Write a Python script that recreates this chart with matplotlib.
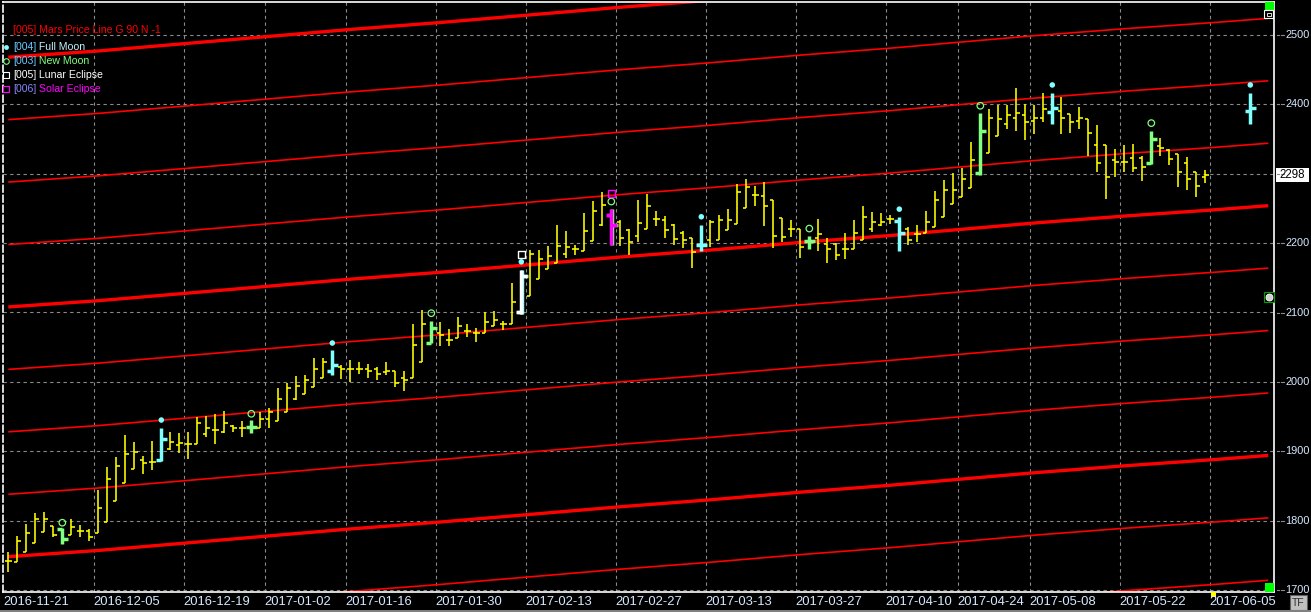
import matplotlib
matplotlib.use("Agg")
import matplotlib.pyplot as plt
from matplotlib.collections import LineCollection
from matplotlib.patches import Rectangle

# ---------------- data ----------------
date_labels = ["2016-11-21", "2016-12-05", "2016-12-19", "2017-01-02", "2017-01-16",
               "2017-01-30", "2017-02-13", "2017-02-27", "2017-03-13", "2017-03-27",
               "2017-04-10", "2017-04-24", "2017-05-08", "2017-05-22", "2017-06-05"]
date_label_bar = [0, 10, 20, 29, 38, 48, 58, 68, 78, 88, 98, 106, 114, 124, 134]

opens = [1742, 1741, 1755, 1768, 1784, 1792, 1788, 1779, 1785, 1785,
         1782, 1798, 1829, 1854, 1875, 1887, 1885, 1887, 1903, 1909,
         1911, 1911, 1925, 1930, 1928, 1936, 1933, 1935, 1933, 1946,
         1943, 1957, 1975, 1983, 1992, 2005, 2015, 2022, 2019, 2019,
         2019, 2019, 2014, 2015, 2006, 2005, 2028, 2056, 2070, 2060,
         2063, 2074, 2071, 2071, 2080, 2083, 2083, 2100, 2124, 2148,
         2162, 2171, 2184, 2191, 2189, 2203, 2226, 2240, 2231, 2219,
         2210, 2220, 2235, 2234, 2226, 2214, 2208, 2198, 2205, 2204,
         2219, 2228, 2250, 2269, 2268, 2262, 2236, 2221, 2221, 2203,
         2207, 2199, 2199, 2191, 2192, 2204, 2221, 2226, 2235, 2232,
         2221, 2213, 2214, 2223, 2238, 2256, 2266, 2279, 2301, 2330,
         2354, 2372, 2380, 2385, 2376, 2380, 2389, 2391, 2386, 2376,
         2379, 2341, 2341, 2320, 2317, 2322, 2322, 2315, 2340, 2334,
         2328, 2316, 2303, 2295]
highs = [1755, 1778, 1795, 1811, 1812, 1792, 1789, 1803, 1793, 1788,
         1844, 1877, 1891, 1923, 1914, 1893, 1915, 1933, 1928, 1926,
         1928, 1949, 1951, 1953, 1958, 1938, 1943, 1945, 1956, 1963,
         1991, 1998, 2008, 2010, 2034, 2034, 2046, 2024, 2031, 2028,
         2026, 2021, 2029, 2016, 2015, 2083, 2104, 2088, 2086, 2076,
         2093, 2083, 2078, 2101, 2102, 2088, 2142, 2161, 2190, 2190,
         2196, 2226, 2217, 2198, 2244, 2261, 2273, 2249, 2233, 2220,
         2262, 2271, 2246, 2239, 2228, 2217, 2208, 2226, 2233, 2241,
         2249, 2285, 2293, 2282, 2288, 2262, 2236, 2234, 2221, 2210,
         2235, 2207, 2200, 2214, 2234, 2253, 2245, 2244, 2241, 2238,
         2223, 2226, 2246, 2275, 2291, 2301, 2309, 2346, 2387, 2394,
         2399, 2399, 2423, 2401, 2399, 2417, 2417, 2410, 2386, 2396,
         2379, 2370, 2341, 2335, 2341, 2343, 2325, 2362, 2352, 2335,
         2328, 2324, 2303, 2306]
lows = [1726, 1741, 1755, 1768, 1784, 1777, 1766, 1779, 1776, 1771,
        1782, 1798, 1829, 1854, 1875, 1867, 1873, 1886, 1902, 1898,
        1889, 1911, 1920, 1911, 1926, 1928, 1921, 1927, 1933, 1933,
        1943, 1957, 1974, 1983, 1992, 2005, 2010, 2004, 2000, 2011,
        2006, 2003, 2010, 1992, 1987, 2005, 2028, 2056, 2052, 2052,
        2063, 2065, 2058, 2071, 2080, 2075, 2083, 2098, 2124, 2148,
        2162, 2171, 2178, 2183, 2189, 2203, 2225, 2197, 2196, 2183,
        2201, 2220, 2224, 2207, 2197, 2193, 2164, 2189, 2194, 2204,
        2219, 2228, 2250, 2253, 2225, 2193, 2201, 2209, 2179, 2192,
        2188, 2171, 2176, 2177, 2192, 2204, 2216, 2224, 2228, 2189,
        2197, 2201, 2214, 2223, 2238, 2256, 2266, 2279, 2298, 2330,
        2354, 2365, 2362, 2348, 2357, 2374, 2372, 2358, 2359, 2365,
        2326, 2302, 2263, 2295, 2302, 2302, 2289, 2314, 2325, 2312,
        2281, 2276, 2266, 2287]
closes = [1742, 1771, 1782, 1803, 1803, 1779, 1774, 1791, 1785, 1777,
          1818, 1860, 1879, 1896, 1899, 1883, 1885, 1917, 1914, 1912,
          1911, 1940, 1934, 1931, 1940, 1933, 1934, 1935, 1947, 1956,
          1975, 1991, 1994, 2002, 2018, 2029, 2024, 2019, 2019, 2019,
          2016, 2011, 2015, 1999, 2003, 2053, 2084, 2077, 2067, 2060,
          2080, 2074, 2071, 2086, 2089, 2083, 2115, 2153, 2185, 2177,
          2181, 2196, 2195, 2191, 2218, 2247, 2255, 2226, 2207, 2201,
          2229, 2253, 2235, 2219, 2206, 2204, 2187, 2198, 2230, 2234,
          2234, 2273, 2281, 2269, 2254, 2210, 2209, 2221, 2194, 2203,
          2213, 2192, 2183, 2191, 2215, 2237, 2231, 2231, 2235, 2214,
          2204, 2213, 2231, 2262, 2277, 2277, 2293, 2320, 2362, 2380,
          2379, 2385, 2387, 2375, 2381, 2393, 2395, 2380, 2374, 2381,
          2359, 2316, 2295, 2317, 2317, 2308, 2310, 2350, 2337, 2321,
          2302, 2293, 2282, 2298]

# projected bar on the next full moon
future_bar = 138
future_ohlc = [2390, 2417, 2372, 2395]

full_moon_bars = [17, 36, 57, 77, 99, 116, 138]
full_moon_marks = [1945, 2056, 2173, 2238, 2249, 2428, 2428]
new_moon_bars = [6, 27, 47, 67, 89, 108, 127]
new_moon_marks = [1797, 1954, 2099, 2260, 2221, 2398, 2373]
lunar_eclipse_bars = [57]
lunar_eclipse_marks = [2184]
solar_eclipse_bars = [67]
solar_eclipse_marks = [2272]

# Mars price line (reference line values), repeated every 90
mars_bars = [0, 10, 20, 29, 38, 48, 58, 68, 78, 88, 98, 106, 114, 124, 134, 140]
mars_vals = [2108, 2117, 2128, 2138, 2148, 2158, 2169, 2180, 2190, 2201, 2211, 2220,
             2229, 2239, 2248, 2254]
mars_offsets = [-540, -450, -360, -270, -180, -90, 0, 90, 180, 270, 360, 450]

price_levels = [1700, 1800, 1900, 2000, 2100, 2200, 2300, 2400, 2500]
last_price = 2298

# ---------------- figure ----------------
W, H = 1311, 612
fig = plt.figure(figsize=(W / 100, H / 100), dpi=100, facecolor="black")
L, R, T, B = 3, 1274, 2, 592
ax = fig.add_axes([L / W, (H - B) / H, (R - L) / W, (B - T) / H])
ax.set_facecolor("black")
px_per_bar = 9.0
x0 = 8.3
ax.set_xlim((L - x0) / px_per_bar, (R - x0) / px_per_bar)
ppu = 0.69375
ax.set_ylim(1700 - (B - 590) / ppu, 1700 + (590 - T) / ppu)
ax.set_xticks([])
ax.set_yticks([])
for s in ax.spines.values():
    s.set_color("white")
    s.set_linewidth(1.2)
ax.spines["left"].set_linestyle((0, (4, 2)))

grid_kw = dict(color="#8a8a8a", lw=0.8, ls=(0, (3, 3)), zorder=1)
for gb in date_label_bar[1:]:
    ax.axvline(gb - 0.5, **grid_kw)
for lv in price_levels:
    ax.axhline(lv, **grid_kw)

# Mars price lines
for off in mars_offsets:
    thick = off % 360 == 0
    ax.plot(mars_bars, [v + off for v in mars_vals], color="#ff0000",
            lw=2.4 if thick else 1.2, zorder=2, solid_capstyle="butt")

# OHLC bars
def draw_bar(i, o, h, l, c, color, lw, tick, z=4):
    segs = [[(i, l), (i, h)], [(i - tick, o), (i, o)], [(i, c), (i + tick, c)]]
    ax.add_collection(LineCollection(segs, colors=color, linewidths=lw, zorder=z,
                                     capstyle="butt"))

special = {}
for b in full_moon_bars:
    special[b] = "#80ffff"
for b in new_moon_bars:
    special[b] = "#80ff80"

for i in range(len(opens)):
    if i in special:
        continue
    draw_bar(i, opens[i], highs[i], lows[i], closes[i], "#ffff00", 1.15, 0.42)

for i in range(len(opens)):
    if i not in special:
        continue
    col = special[i]
    if i in lunar_eclipse_bars:
        draw_bar(i + 0.12, opens[i], highs[i], lows[i], closes[i], "#80ffff", 2.5, 0.6, 5)
        col = "#ffffff"
    if i in solar_eclipse_bars:
        draw_bar(i + 0.12, opens[i], highs[i], lows[i], closes[i], "#80ff80", 2.5, 0.6, 5)
        col = "#ff00ff"
    draw_bar(i, opens[i], highs[i], lows[i], closes[i], col, 2.5, 0.6, 6)

o, h, l, c = future_ohlc
draw_bar(future_bar, o, h, l, c, "#80ffff", 2.5, 0.6, 6)

# markers
ax.scatter(full_moon_bars, full_moon_marks, s=16, marker="o", color="#80ffff",
           edgecolors="none", zorder=7)
ax.scatter(new_moon_bars, new_moon_marks, s=22, marker="o", facecolors="none",
           edgecolors="#80ff80", linewidths=0.9, zorder=7)
ax.scatter(lunar_eclipse_bars, lunar_eclipse_marks, s=26, marker="s", facecolors="none",
           edgecolors="#ffffff", linewidths=1.0, zorder=7)
ax.scatter(solar_eclipse_bars, solar_eclipse_marks, s=26, marker="s", facecolors="none",
           edgecolors="#ff00ff", linewidths=1.0, zorder=7)

# ---------------- text ----------------
FONT = "Liberation Sans"
lab_col = "#d6e9ff"
fs = 7.6
fs_axis = 9.4
fs_price = 7.9

def fx(px):
    return px / W

def fy(py):
    return 1 - py / H

# date labels (left aligned at grid lines)
for lbl, b in zip(date_labels, date_label_bar):
    xp = x0 + px_per_bar * (b - 0.5)
    fig.text(fx(max(xp, 3)), fy(602), lbl, color=lab_col, fontsize=fs_axis, family=FONT,
             ha="left", va="center")

# price labels on the right
def ypx(v):
    return 590 - (v - 1700) * ppu

for lv in price_levels:
    yy = ypx(lv)
    fig.lines.append(plt.Line2D([fx(1277), fx(1279)], [fy(yy), fy(yy)], color="#8a8a8a",
                                lw=0.8, transform=fig.transFigure))
    fig.lines.append(plt.Line2D([fx(1281), fx(1284)], [fy(yy), fy(yy)], color="#8a8a8a",
                                lw=0.8, transform=fig.transFigure))
    if lv == 2300:
        continue
    fig.text(fx(1285), fy(yy), str(lv), color=lab_col, fontsize=fs_price, family=FONT,
             ha="left", va="center")

yl = ypx(last_price)
fig.patches.append(Rectangle((fx(1276), fy(yl + 7)), fx(33), 14 / H, facecolor="white",
                             edgecolor="none", transform=fig.transFigure))
fig.text(fx(1292.5), fy(yl), str(last_price), color="black", fontsize=fs_price + 0.4,
         family=FONT, ha="center", va="center")

# TF box and bottom strip
fig.patches.append(Rectangle((fx(1290), fy(610)), fx(17), 15 / H, facecolor="#c0c0c0",
                             edgecolor="#606060", lw=0.8, transform=fig.transFigure))
fig.text(fx(1298.5), fy(602.5), "TF", color="#303030", fontsize=7.5, family=FONT,
         ha="center", va="center")
fig.patches.append(Rectangle((0, 0), 1, 2 / H, facecolor="#808080", edgecolor="none",
                             transform=fig.transFigure))

# small status squares
fig.patches.append(Rectangle((fx(1265), fy(11)), fx(9), 9 / H, facecolor="#00ff00",
                             edgecolor="none", transform=fig.transFigure))
fig.patches.append(Rectangle((fx(1265), fy(592)), fx(9), 9 / H, facecolor="#00ff00",
                             edgecolor="none", transform=fig.transFigure))
fig.patches.append(Rectangle((fx(1264), fy(18)), fx(9), 8 / H, facecolor="black",
                             edgecolor="white", lw=0.8, transform=fig.transFigure))
fig.patches.append(Rectangle((fx(1266.5), fy(15.5)), fx(4), 3 / H, facecolor="none",
                             edgecolor="white", lw=0.6, transform=fig.transFigure))
fig.patches.append(Rectangle((fx(1264), fy(302)), fx(10), 10 / H, facecolor="black",
                             edgecolor="#00a000", lw=0.8, transform=fig.transFigure))
fig.lines.append(plt.Line2D([fx(1269)], [fy(297)], marker="o", ms=5, mfc="#d0d0d0",
                            mec="white", mew=0.6, transform=fig.transFigure))
fig.patches.append(Rectangle((fx(1211), fy(597)), fx(5), 5 / H, facecolor="#ffff00",
                             edgecolor="none", transform=fig.transFigure))

# legend
fig.text(fx(13), fy(30), "[005] Mars Price Line G 90 N -1", color="#ff0000", fontsize=fs,
         family=FONT, ha="left", va="center")
legend_rows = [
    (47, "[004]", "#66ccff", " Full Moon", "#bff5ff", "dot"),
    (61, "[003]", "#66ccff", " New Moon", "#80ff80", "circle"),
    (75, "[005]", "#ffffff", " Lunar Eclipse", "#ffffff", "square_w"),
    (89, "[006]", "#8888ff", " Solar Eclipse", "#ff00ff", "square_m"),
]
fig.canvas.draw()
renderer = fig.canvas.get_renderer()
for yy, code, ccol, name, ncol, mk in legend_rows:
    t = fig.text(fx(13), fy(yy), code, color=ccol, fontsize=fs, family=FONT,
                 ha="left", va="center")
    bb = t.get_window_extent(renderer=renderer)
    fig.text(bb.x1 / W, fy(yy), name, color=ncol, fontsize=fs, family=FONT,
             ha="left", va="center")
    if mk == "dot":
        fig.lines.append(plt.Line2D([fx(6)], [fy(yy)], marker="o", ms=3.5, color="#80ffff",
                                    mec="none", transform=fig.transFigure))
    elif mk == "circle":
        fig.lines.append(plt.Line2D([fx(6)], [fy(yy)], marker="o", ms=4, mfc="none",
                                    mec="#80ff80", mew=0.8, transform=fig.transFigure))
    elif mk == "square_w":
        fig.lines.append(plt.Line2D([fx(6)], [fy(yy)], marker="s", ms=4, mfc="none",
                                    mec="#ffffff", mew=0.8, transform=fig.transFigure))
    else:
        fig.lines.append(plt.Line2D([fx(6)], [fy(yy)], marker="s", ms=4, mfc="none",
                                    mec="#ff00ff", mew=0.8, transform=fig.transFigure))

fig.savefig("out.png", dpi=100, facecolor="black")
